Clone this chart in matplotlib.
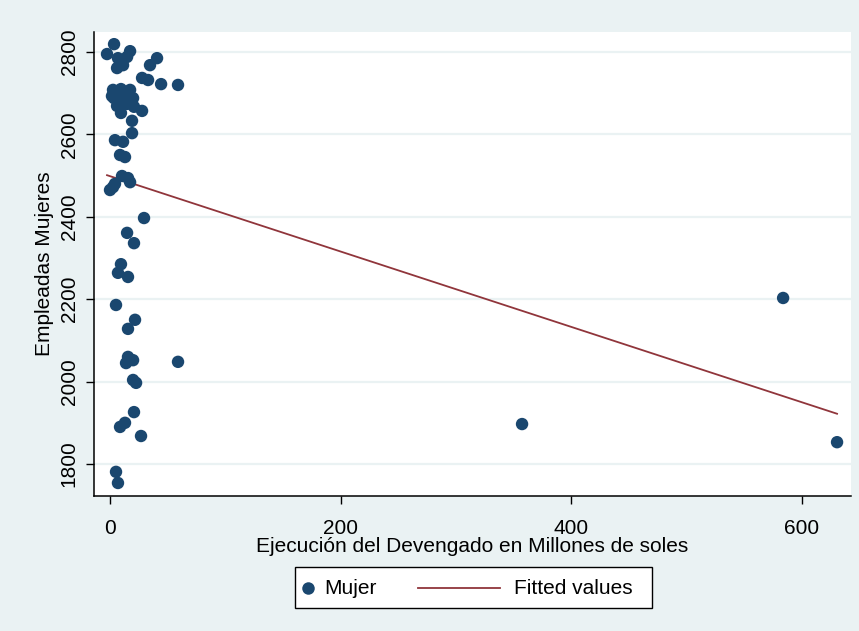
import matplotlib
matplotlib.use("Agg")
import matplotlib.pyplot as plt
from matplotlib.lines import Line2D
from matplotlib.patches import Rectangle

# Ejecución del devengado (millones de soles) and female employees per unit
devengado = [3.5, -2.6, 17.4, 6.9, 14.8, 11.3, 6.1, 40.8, 34.7, 27.8, 33.0, 44.3, 59.0,
             2.6, 9.5, 17.4, 3.5, 12.1, 20.0, 6.1, 14.8, 9.5, 20.8, 27.8, 19.1, 19.1,
             4.3, 11.3, 1.7, 8.7, 13.0, 10.4, 15.6, 17.4, 4.3, 0.0, 2.6, 29.5, 14.8,
             20.8, 9.5, 6.9, 15.6, 5.2, 21.7, 15.6, 15.6, 20.0, 13.9, 59.0, 20.0, 22.6,
             20.8, 13.0, 8.7, 26.9, 5.2, 6.9, 357.5, 584.0, 630.8]
mujeres = [2819, 2795, 2802, 2785, 2788, 2768, 2761, 2785, 2768, 2737, 2732, 2722, 2720,
           2708, 2710, 2708, 2688, 2691, 2688, 2669, 2674, 2652, 2667, 2657, 2633, 2603,
           2586, 2582, 2693, 2550, 2545, 2499, 2494, 2484, 2480, 2465, 2472, 2397, 2361,
           2336, 2285, 2264, 2254, 2186, 2150, 2128, 2060, 2052, 2045, 2048, 2004, 1997,
           1926, 1900, 1890, 1868, 1781, 1754, 1897, 2203, 1853]

# Linear fit endpoints (fitted values at min and max of devengado)
fit_x = [-2.6, 630.8]
fit_y = [2501, 1922]

x_ticks = [0, 200, 400, 600]
y_ticks = [1800, 2000, 2200, 2400, 2600, 2800]
legend_labels = ["Mujer", "Fitted values"]

plt.rcParams["font.family"] = ["Liberation Sans", "DejaVu Sans"]

bg = "#eaf2f3"
navy = "#1a476f"
maroon = "#90353b"
W, H = 859, 631

fig = plt.figure(figsize=(W / 100, H / 100), dpi=100, facecolor=bg)
ax = fig.add_axes([94 / W, 1 - 496 / H, (851 - 94) / W, (496 - 32) / H])
ax.set_facecolor("white")

ax.set_xlim(-13.9, 642.9)
ax.set_ylim(1722.4, 2848.5)

for yt in y_ticks:
    ax.axhline(yt, color=bg, lw=1.6, zorder=0)

ax.scatter(devengado, mujeres, s=80, color=navy, edgecolors="none", zorder=3)
ax.plot(fit_x, fit_y, color=maroon, lw=1.3, zorder=2)

ax.set_xticks(x_ticks)
ax.set_yticks(y_ticks)
ax.set_yticklabels([str(v) for v in y_ticks], rotation=90, va="center")
ax.tick_params(axis="x", direction="out", length=6, width=1, labelsize=15, colors="black", pad=10.5)
ax.tick_params(axis="y", direction="out", length=6, width=1, labelsize=15, colors="black", pad=5)

for side in ["top", "right"]:
    ax.spines[side].set_visible(False)
for side in ["left", "bottom"]:
    ax.spines[side].set_color("black")
    ax.spines[side].set_linewidth(1.1)

ax.set_xlabel("Ejecución del Devengado en Millones de soles", fontsize=15, labelpad=-1)
ax.set_ylabel("Empleadas Mujeres", fontsize=15, labelpad=4)

# Legend box below the plot: marker key, then fitted-line key
def fx(px):
    return px / W

def fy(py):
    return 1 - py / H

tf = fig.transFigure
fig.add_artist(Rectangle((fx(295), fy(608)), fx(652) - fx(295), fy(567) - fy(608),
                         transform=tf, facecolor="white", edgecolor="black", lw=1.0))
fig.add_artist(Line2D([fx(308)], [fy(588)], transform=tf, marker="o", linestyle="none",
                      color=navy, markersize=9, markeredgewidth=0))
fig.text(fx(324), fy(588), legend_labels[0], fontsize=15, va="center", ha="left")
fig.add_artist(Line2D([fx(418), fx(500)], [fy(588), fy(588)], transform=tf,
                      color=maroon, lw=1.3))
fig.text(fx(514), fy(588), legend_labels[1], fontsize=15, va="center", ha="left")

fig.savefig("out.png", dpi=100, facecolor=bg)
